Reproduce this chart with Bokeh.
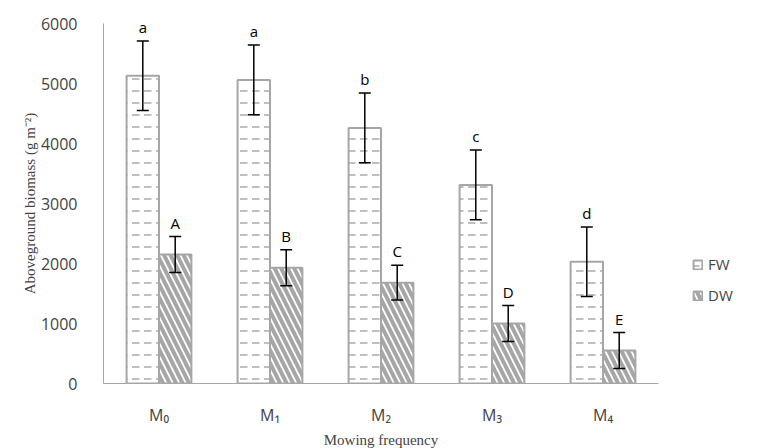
from bokeh.plotting import figure
from bokeh.models import ColumnDataSource, FactorRange, Range1d, Whisker, Legend, LegendItem, LabelSet
from bokeh.core.properties import value
from bokeh.transform import dodge
from bokeh.embed import file_html
from bokeh.resources import INLINE

categories = ["M\u2080", "M\u2081", "M\u2082", "M\u2083", "M\u2084"]
fw = [5130, 5060, 4260, 3310, 2030]
fw_err = [580, 580, 580, 580, 580]
dw = [2150, 1930, 1680, 1000, 550]
dw_err = [300, 300, 290, 300, 300]
fw_letters = ["a", "a", "b", "c", "d"]
dw_letters = ["A", "B", "C", "D", "E"]

src = ColumnDataSource(dict(
    cat=categories, fw=fw, dw=dw,
    fw_up=[v + e for v, e in zip(fw, fw_err)], fw_lo=[v - e for v, e in zip(fw, fw_err)],
    dw_up=[v + e for v, e in zip(dw, dw_err)], dw_lo=[v - e for v, e in zip(dw, dw_err)],
    fw_l=fw_letters, dw_l=dw_letters,
))

p = figure(frame_width=555, frame_height=360, x_range=FactorRange(*categories), y_range=Range1d(0, 6000),
           output_backend="svg", toolbar_location=None,
           min_border_left=103, min_border_top=23, min_border_bottom=48, min_border_right=5)
p.outline_line_color = None
p.xgrid.grid_line_color = None
p.ygrid.grid_line_color = None
p.x_range.range_padding = 0

off = 0.146
w = 0.292
gray = "#A6A6A6"
r_fw = p.vbar(x=dodge("cat", -off, range=p.x_range), top="fw", width=w, source=src,
              fill_color="white", line_color=gray, line_width=2,
              hatch_pattern="horizontal_dash", hatch_color="#BFBFBF", hatch_scale=12, hatch_weight=2)
r_dw = p.vbar(x=dodge("cat", off, range=p.x_range), top="dw", width=w, source=src,
              fill_color="white", line_color=gray, line_width=2,
              hatch_pattern="left_diagonal_line", hatch_color=gray, hatch_scale=13, hatch_weight=4)

for up, lo, d in (("fw_up", "fw_lo", -off), ("dw_up", "dw_lo", off)):
    wk = Whisker(base=dodge("cat", d, range=p.x_range), upper=up, lower=lo, source=src,
                 line_color="black", line_width=1.5, level="annotation")
    wk.upper_head.size = 12
    wk.lower_head.size = 12
    wk.upper_head.line_color = "black"
    wk.lower_head.line_color = "black"
    wk.upper_head.line_width = 1.5
    wk.lower_head.line_width = 1.5
    p.add_layout(wk)

for col, up, d in (("fw_l", "fw_up", -off), ("dw_l", "dw_up", off)):
    ls = LabelSet(x=dodge("cat", d, range=p.x_range), y=up, text=col, source=src,
                  text_align="center", text_baseline="bottom", y_offset=4,
                  text_font=value("Open Sans"), text_font_size=value("15px"), text_color="black")
    p.add_layout(ls)

p.xaxis.axis_line_color = gray
p.xaxis.axis_line_width = 1
p.xaxis.major_tick_line_color = None
p.xaxis.minor_tick_line_color = None
p.xaxis.major_label_text_font = "Open Sans"
p.xaxis.major_label_text_font_size = "16px"
p.xaxis.major_label_standoff = 14
p.xaxis.axis_label = "Mowing frequency"
p.xaxis.axis_label_text_font = "Liberation Serif"
p.xaxis.axis_label_text_font_style = "normal"
p.xaxis.axis_label_text_font_size = "15px"
p.xaxis.axis_label_standoff = 3

p.yaxis.ticker = [0, 1000, 2000, 3000, 4000, 5000, 6000]
p.yaxis.axis_line_color = gray
p.yaxis.major_tick_line_color = None
p.yaxis.minor_tick_line_color = None
p.yaxis.major_label_text_font = "Open Sans"
p.yaxis.major_label_text_font_size = "16px"
p.yaxis.major_label_standoff = 20
p.yaxis.axis_label = "Aboveground biomass (g m\u207b\u00b2)"
p.yaxis.axis_label_text_font = "Liberation Serif"
p.yaxis.axis_label_text_font_style = "normal"
p.yaxis.axis_label_text_font_size = "15px"
p.yaxis.axis_label_standoff = 0

legend = Legend(items=[LegendItem(label="FW", renderers=[r_fw]), LegendItem(label="DW", renderers=[r_dw])],
                location=(34, 78), border_line_color=None, background_fill_alpha=0,
                label_text_font="Open Sans", label_text_font_size="15px",
                glyph_width=11, glyph_height=11, spacing=11, label_standoff=5)
p.add_layout(legend, "right")

open("out.html", "w").write(file_html(p, INLINE))
